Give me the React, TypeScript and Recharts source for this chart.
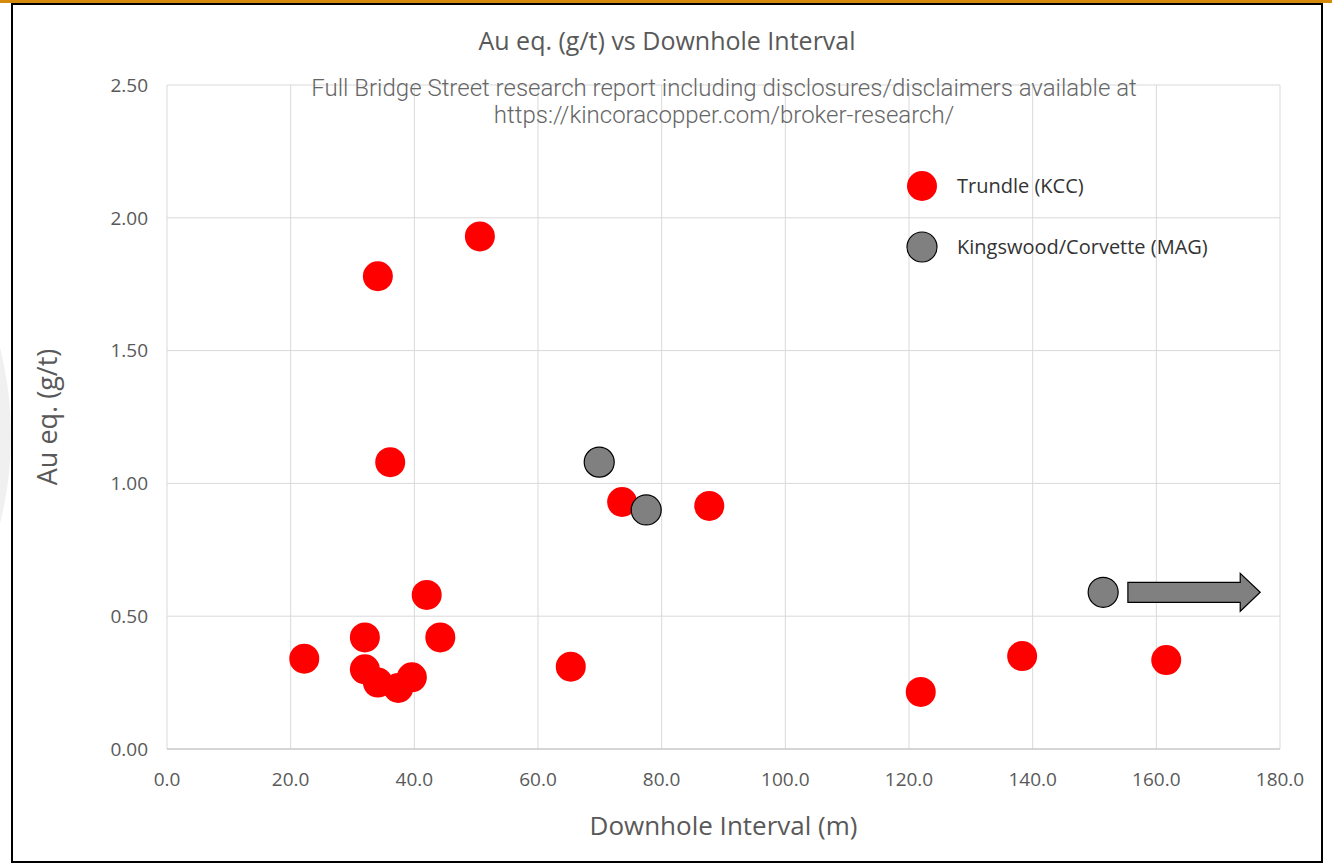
import React from 'react';
import { ScatterChart, Scatter, XAxis, YAxis, CartesianGrid, ReferenceLine } from 'recharts';

// Trundle (KCC) intercepts: downhole interval (m) vs Au eq. (g/t)
const TRUNDLE = [
  { x: 22.2, y: 0.34 },
  { x: 32.0, y: 0.42 },
  { x: 32.0, y: 0.30 },
  { x: 34.1, y: 0.25 },
  { x: 37.4, y: 0.23 },
  { x: 39.6, y: 0.27 },
  { x: 34.1, y: 1.78 },
  { x: 36.1, y: 1.08 },
  { x: 42.0, y: 0.58 },
  { x: 44.2, y: 0.42 },
  { x: 50.6, y: 1.93 },
  { x: 65.3, y: 0.31 },
  { x: 73.6, y: 0.93 },
  { x: 87.7, y: 0.915 },
  { x: 121.9, y: 0.215 },
  { x: 138.3, y: 0.35 },
  { x: 161.6, y: 0.335 },
];

// Kingswood/Corvette (MAG)
const MAG = [
  { x: 69.9, y: 1.08 },
  { x: 77.5, y: 0.90 },
  { x: 151.4, y: 0.59 },
];

const X_TICKS = [0, 20, 40, 60, 80, 100, 120, 140, 160, 180];
const Y_TICKS = [0, 0.5, 1, 1.5, 2, 2.5];
const ARROW = [{ x: 155.4, y: 0.59 }, { x: 176.8, y: 0.59 }];

const SERIES = [
  { name: 'Trundle (KCC)', fill: '#FF0000', stroke: 'none' },
  { name: 'Kingswood/Corvette (MAG)', fill: '#808080', stroke: '#000' },
];

const FONT = '"Open Sans", sans-serif';

const dot = (fill: string, stroke: string) => (props: any) => (
  <circle cx={props.cx} cy={props.cy} r={15} fill={fill} stroke={stroke} strokeWidth={1.2} />
);

const arrowShape = (props: any) => {
  const { x1, y1, x2 } = props;
  const head = 20;
  const p = [
    [x1, y1 - 10],
    [x2 - head, y1 - 10],
    [x2 - head, y1 - 19],
    [x2, y1],
    [x2 - head, y1 + 19],
    [x2 - head, y1 + 10],
    [x1, y1 + 10],
  ].map((pt) => pt.join(',')).join(' ');
  return <polygon points={p} fill="#808080" stroke="#000" strokeWidth={1.2} />;
};

const LegendBox = () => (
  <div style={{ position: 'absolute', left: 905, top: 155, fontFamily: FONT, fontSize: 20, color: '#333' }}>
    {SERIES.map((s) => (
      <div key={s.name} style={{ display: 'flex', alignItems: 'center', height: 61 }}>
        <svg width={34} height={34}>
          <circle cx={17} cy={17} r={15} fill={s.fill} stroke={s.stroke} strokeWidth={1.2} />
        </svg>
        <span style={{ marginLeft: 18 }}>{s.name}</span>
      </div>
    ))}
  </div>
);

export default function App() {
  return (
    <div style={{ position: 'absolute', left: 0, top: 0, width: 1332, height: 865, background: '#fff', overflow: 'hidden' }}>
      <div style={{ position: 'absolute', left: -700, top: 80, width: 711, height: 711, borderRadius: '50%', background: '#f0f0f0' }} />
      <div style={{ position: 'absolute', left: 0, top: 0, width: 1332, height: 3, background: '#D68A0C' }} />
      <div style={{ position: 'absolute', left: 11, top: 3, width: 1312, height: 860, border: '2px solid #000', boxSizing: 'border-box', background: '#fff' }} />

      <div style={{ position: 'absolute', left: 11, top: 0, width: 1312 }}>
        <ScatterChart width={1312} height={865} margin={{ top: 85, right: 43, bottom: 10, left: 1 }}>
          <CartesianGrid stroke="#d9d9d9" />
          <XAxis
            type="number"
            dataKey="x"
            domain={[0, 180]}
            ticks={X_TICKS}
            tickFormatter={(v: number) => v.toFixed(1)}
            height={106}
            tickLine={false}
            tickMargin={18}
            axisLine={{ stroke: '#bfbfbf' }}
            tick={{ fill: '#595959', fontSize: 19, fontFamily: FONT }}
            label={{ value: 'Downhole Interval (m)', position: 'insideBottom', offset: 20, fill: '#595959', fontSize: 26, fontFamily: FONT }}
          />
          <YAxis
            type="number"
            dataKey="y"
            domain={[0, 2.5]}
            ticks={Y_TICKS}
            tickFormatter={(v: number) => v.toFixed(2)}
            width={155}
            tickLine={false}
            axisLine={false}
            tickMargin={13}
            tick={{ fill: '#595959', fontSize: 19, fontFamily: FONT }}
            label={{ value: 'Au eq. (g/t)', angle: -90, position: 'insideLeft', offset: 35, fill: '#595959', fontSize: 27, fontFamily: FONT, style: { textAnchor: 'middle' } }}
          />
          <ReferenceLine segment={ARROW} shape={arrowShape} ifOverflow="visible" />
          <Scatter name={SERIES[0].name} data={TRUNDLE} shape={dot(SERIES[0].fill, SERIES[0].stroke)} isAnimationActive={false} />
          <Scatter name={SERIES[1].name} data={MAG} shape={dot(SERIES[1].fill, SERIES[1].stroke)} isAnimationActive={false} />
        </ScatterChart>
      </div>

      <LegendBox />

      <div style={{ position: 'absolute', left: 11, top: 23, width: 1312, textAlign: 'center', fontFamily: FONT, fontSize: 25, color: '#595959' }}>
        Au eq. (g/t) vs Downhole Interval
      </div>
      <div style={{ position: 'absolute', left: 224, top: 75, width: 1000, textAlign: 'center', fontFamily: 'Roboto, sans-serif', fontWeight: 300, fontSize: 24, lineHeight: '27px', color: '#666' }}>
        Full Bridge Street research report including disclosures/disclaimers available at
        <br />
        https://kincoracopper.com/broker-research/
      </div>
    </div>
  );
}
